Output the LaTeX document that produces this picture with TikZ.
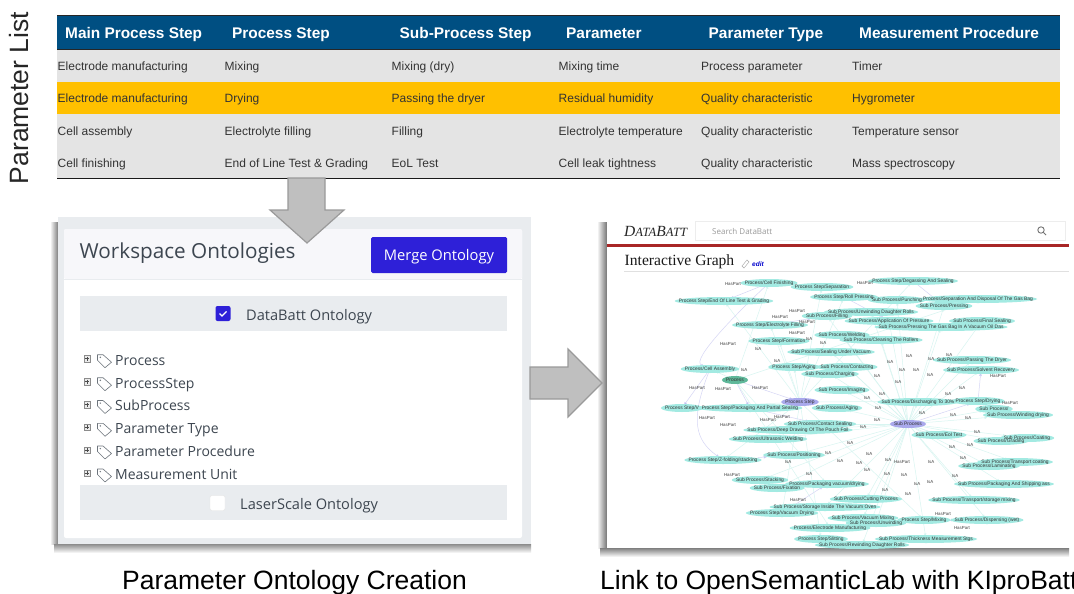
\documentclass[tikz,border=0pt]{standalone}
\usepackage{fontspec}
\setmainfont{Liberation Sans}
\newfontfamily\uifont{Open Sans}
\newfontfamily\serifui{Liberation Serif}
\usetikzlibrary{arrows.meta,calc}
\definecolor{hdr}{HTML}{004F82}
\definecolor{rowg}{HTML}{E4E4E4}
\definecolor{rowy}{HTML}{FFC000}
\definecolor{barg}{HTML}{E9ECEF}
\definecolor{cardh}{HTML}{F7F7FA}
\definecolor{txtg}{HTML}{3D4650}
\definecolor{btn}{HTML}{2E20D8}
\definecolor{arrowf}{HTML}{BFBFBF}
\definecolor{arrowd}{HTML}{9A9A9A}
\definecolor{gteal}{HTML}{A3EAE2}
\definecolor{glav}{HTML}{A9A9EC}
\definecolor{ggreen}{HTML}{5FB89A}
\definecolor{edgeb}{HTML}{D6D6F5}
\definecolor{edgec}{HTML}{D8F5F1}
\pgfdeclarelayer{gfill}
\pgfdeclarelayer{gtext}
\pgfsetlayers{main,gfill,gtext}
\tikzset{
 x=1pt,y=-1pt,
 hcell/.style={anchor=west,text=white,font=\fontsize{15.4}{17}\selectfont\bfseries,inner sep=0,text height=11pt,text depth=0pt},
 cell/.style={anchor=west,text=black!80,font=\fontsize{12}{14}\selectfont,inner sep=0,text height=8.6pt,text depth=0pt},
 caption/.style={text=black,font=\fontsize{26.5}{30}\selectfont,inner sep=0,anchor=west,text height=19pt,text depth=0pt},
 ui/.style={anchor=west,text=txtg,inner sep=0,font=\uifont\fontsize{14}{16}\selectfont,text height=10pt,text depth=0pt},
 uib/.style={ui,font=\uifont\fontsize{14.6}{17}\selectfont},
 bigarrow/.style={fill=arrowf,draw=arrowd,line width=1.2pt,line join=miter},
 gtxt/.style={text=black!80,font=\fontsize{4.9}{5.5}\selectfont,inner sep=0},
 lbl/.style={text=black!75,font=\fontsize{4.4}{5}\selectfont,inner sep=0},
 tedge/.style={draw=edgec,line width=0.5pt,-{Latex[length=3pt,width=2.6pt,fill=gteal!70]}},
 bedge/.style={draw=edgeb,line width=0.5pt,-{Latex[length=3.5pt,width=3pt,fill=glav]}},
}
\newcommand{\tagrow}[3]{%
 \node[draw=black!45,fill=black!8,line width=.4pt,minimum size=6.5pt,inner sep=0] (#1b) at (87,#2) {};
 \draw[black!70,line width=.8pt] (85,#2) -- (89,#2) (87,#2-2) -- (87,#2+2);
 \draw[txtg!75,line width=.6pt,line join=round] (97.5,#2-4) -- (103,#2-4) -- (111.5,#2+3.5) -- (105,#2+9) -- (97.5,#2+1.5) -- cycle;
 \fill[txtg!75] (100.3,#2-1.4) circle (.8);
 \node[ui] (#1) at (115,#2+1.3) {#3};
}
\newcommand{\gn}[5][gteal]{%
 \begin{pgfonlayer}{gtext}\node[gtxt] (#2) at (#3,#4) {#5};\end{pgfonlayer}%
 \begin{pgfonlayer}{gfill}\path let \p1=($(#2.east)-(#2.center)$) in [fill=#1] (#2.center) ellipse [x radius=\x1+4pt,y radius=4pt];\end{pgfonlayer}%
}
\begin{document}
\begin{tikzpicture}
\useasboundingbox (0,0) rectangle (1074,594);
\fill[white] (0,0) rectangle (1074,594);
% ---- side label
\node[rotate=90,font=\fontsize{26.5}{30}\selectfont,inner sep=0,text=black!85,text height=19pt,text depth=0pt] (side) at (19,98) {Parameter List};
% ---- table
\fill[hdr] (57,16) rectangle (1060,49);
\fill[rowg] (57,49) rectangle (1060,178);
\fill[rowy] (57,82) rectangle (1060,114);
\draw[black!85,line width=1pt] (57,16) -- (1060,16) (57,49.5) -- (1060,49.5);
\draw[black!90,line width=1.3pt] (57,178.5) -- (1060,178.5);
\foreach \n/\x/\t in {a/65/Main Process Step,b/232/Process Step,c/399.5/Sub-Process Step,d/566/Parameter,e/708.5/Parameter  Type,f/859/Measurement Procedure}
  \node[hcell] (h\n) at (\x,33) {\t};
\foreach \y/\r/\A/\B/\C/\D/\E/\F in {
 66/a/Electrode manufacturing/Mixing/Mixing (dry)/Mixing time/Process parameter/Timer,
 98.5/b/Electrode manufacturing/Drying/Passing the dryer/Residual humidity/Quality characteristic/Hygrometer,
 131/c/Cell assembly/Electrolyte filling/Filling/Electrolyte temperature/Quality characteristic/Temperature sensor,
 163/d/Cell finishing/End of Line Test \& Grading/EoL Test/Cell leak tightness/Quality characteristic/Mass spectroscopy}{
  \node[cell] (r\r1) at (57.5,\y) {\A};
  \node[cell] (r\r2) at (224.5,\y) {\B};
  \node[cell] (r\r3) at (391.5,\y) {\C};
  \node[cell] (r\r4) at (558.5,\y) {\D};
  \node[cell] (r\r5) at (701,\y) {\E};
  \node[cell] (r\r6) at (852,\y) {\F};
}
% ---- left panel
\shade[left color=white,right color=black!50] (50,222) rectangle (58,544);
\shade[top color=black!45,bottom color=white] (54,544) rectangle (531,553);
\fill[barg] (58,217) rectangle (531,544);
\fill[white,rounded corners=2pt] (64,229) rectangle (522,538);
\fill[cardh,rounded corners=2pt] (64,229) rectangle (522,279);
\draw[barg,line width=.6pt] (64,279) -- (522,279);
\node[anchor=west,inner sep=0,text=txtg,font=\uifont\fontsize{20.7}{24}\selectfont,text height=15pt,text depth=0pt] (wso) at (79.5,251) {Workspace Ontologies};
\node[fill=btn,rounded corners=1.5pt,text=white,minimum width=136pt,minimum height=36pt,inner sep=0,font=\uifont\fontsize{14.7}{17}\selectfont,text height=10.5pt,text depth=0pt] (merge) at (439,255) {Merge Ontology};
\fill[barg] (79.5,296) rectangle (507,331);
\fill[barg] (79.5,485) rectangle (507,520);
\node[fill=btn,rounded corners=2pt,minimum size=15pt,inner sep=0] (cb1) at (223,313.5) {};
\draw[white,line width=1.1pt] (219.5,313.5) -- (222,316) -- (226.5,311.5);
\node[uib] (dbo) at (246,315) {DataBatt Ontology};
\node[fill=white,draw=black!10,rounded corners=2pt,minimum size=15pt,inner sep=0] (cb2) at (217.5,503) {};
\node[uib] (lso) at (240,504) {LaserScale Ontology};
\tagrow{t1}{358.7}{Process}
\tagrow{t2}{381.7}{ProcessStep}
\tagrow{t3}{404.5}{SubProcess}
\tagrow{t4}{427.3}{Parameter Type}
\tagrow{t5}{450}{Parameter Procedure}
\tagrow{t6}{473}{Measurement Unit}
% ---- right panel
\shade[left color=white,right color=black!55] (597,222) rectangle (607,548);
\shade[top color=black!50,bottom color=white] (600,548) rectangle (1069,557);
\fill[white] (607,217) rectangle (1069,548);
\node[anchor=west,inner sep=0,font=\serifui\itshape\fontsize{15.5}{17}\selectfont,text=black!85] (dbt) at (624,231) {D\fontsize{12.6}{17}\selectfont ATA\fontsize{15.5}{17}\selectfont B\fontsize{12.6}{17}\selectfont ATT};
\draw[black!7,line width=.6pt] (695,221) rectangle (1065,240);
\node[anchor=west,inner sep=0,font=\uifont\fontsize{8}{10}\selectfont,text=black!40] (sdb) at (712,231.5) {Search DataBatt};
\draw[black!55,line width=.9pt] (1041,230) circle (3.2);
\draw[black!55,line width=1pt] (1043.4,232.4) -- (1046,235);
\fill[red!60!black!85] (607,244) rectangle (1069,247);
\node[anchor=west,inner sep=0,font=\serifui\fontsize{15.6}{17}\selectfont,text=black!90] (ig) at (624.5,262) {Interactive Graph};
\draw[black!35,line width=.4pt] (742,266) -- (747,260) -- (749,262) -- (744,268) -- cycle;
\node[anchor=west,inner sep=0,font=\itshape\bfseries\fontsize{6.5}{8}\selectfont,text=blue!80!black] (edt) at (752,264.5) {edit};
\draw[black!12,line width=.7pt] (624,271) -- (1069,271);
% graph nodes
\gn{n1}{769}{283}{Process/Cell Finishing}
\gn{n2}{822}{287}{Process Step/Separation}
\gn{n3}{913}{281}{Process Step/Degassing And Sealing}
\gn{n4}{724}{301}{Process Step/End Of Line Test \& Grading}
\gn{n5}{844}{297}{Process Step/Roll Pressing}
\gn{n6}{897}{300}{Sub Process/Punching}
\gn{n7}{978}{299}{Process/Separation And Disposal Of The Gas Bag}
\gn{n9}{944}{306}{Sub Process/Pressing}
\gn{n8}{871}{312}{Sub Process/Unwinding Daughter Rolls}
\gn{n10}{827}{316}{Sub Process/Filling}
\gn{n12}{982}{321}{Sub Process/Final Sealing}
\gn{n11}{889}{321}{Sub Process/Application Of Pressure}
\gn{n13}{941}{327}{Sub Process/Pressing The Gas Bag In A Vacuum Oil Das}
\gn{n14}{770}{325}{Process Step/Electrolyte Filling}
\gn{n15}{842}{335}{Sub Process/Welding}
\gn{n16}{881}{340}{Sub Process/Cleaning The Rollers}
\gn{n17}{779}{341}{Process Step/Formation}
\gn{n18}{831}{352}{Sub Process/Sealing Under Vacuum}
\gn{n19}{794}{367}{Process Step/Aging}
\gn{n20}{847}{367}{Sub Process/Contacting}
\gn{n21}{830}{374}{Sub Process/Charging}
\gn{n22}{972}{360}{Sub Process/Passing The Dryer}
\gn{n23}{981}{370}{Sub Process/Solvent Recovery}
\gn{n24}{710}{369}{Process/Cell Assembly}
\gn[ggreen]{pr}{735}{380}{Process}
\gn{n25}{842}{390}{Sub Process/Imaging}
\gn[glav]{ps}{800}{402}{Process Step}
\gn{n60}{682}{408}{Process Step/V}
\gn{n26}{750}{408}{Process Step/Packaging And Partial Sealing}
\gn{n27}{837}{408}{Sub Process/Aging}
\gn{n28}{918}{402}{Sub Process/Discharging To 30\%}
\gn{n29}{978}{401}{Process Step/Drying}
\gn{n30}{994}{409}{Sub Process/}
\gn{n31}{1018}{415}{Sub Process/Winding drying}
\gn[glav]{sp}{908}{424}{Sub Process}
\gn{n32}{820}{424}{Sub Process/Contact Sealing}
\gn{n33}{798}{430}{Sub Process/Deep Drawing Of The Pouch Foil}
\gn{n34}{768}{439}{Sub Process/Ultrasonic Welding}
\gn{n35}{939}{435}{Sub Process/Eol Test}
\gn{n36}{1027}{438}{Sub Process/Coating}
\gn{n37}{1001}{441}{Sub Process/Grading}
\gn{n38}{723}{460}{Process Step/Z-folding/stacking}
\gn{n39}{794}{455}{Sub Process/Positioning}
\gn{n41}{989}{466}{Sub Process/Laminating}
\gn{n40}{1015}{462}{Sub Process/Transport coating}
\gn{n42}{760}{480}{Sub Process/Stacking}
\gn{n43}{777}{488}{Sub Process/Fixation}
\gn{n44}{827}{484}{Process/Packaging vacuum/drying}
\gn{n45}{1004}{484}{Sub Process/Packaging And Shipping ass}
\gn{n46}{866}{499}{Sub Process/Cutting Process}
\gn{n47}{974}{500}{Sub Process/Transport/storage mixing}
\gn{n48}{825}{507}{Sub Process/Storage Inside The Vacuum Oven}
\gn{n49}{782}{513}{Process Step/Vacuum Drying}
\gn{n50}{863}{518}{Sub Process/Vacuum Mixing}
\gn{n51}{876}{523}{Sub Process/Unwinding}
\gn{n52}{924}{520}{Process Step/Mixing}
\gn{n53}{987}{520}{Sub Process/Dispersing (wet)}
\gn{n54}{830}{528}{Process/Electrode Manufacturing}
\gn{n55}{821}{539}{Process Step/Slitting}
\gn{n56}{926}{539}{Sub Process/Thickness Measurement Stgs}
\gn{n57}{862}{545}{Sub Process/Rewinding Daughter Rolls}
% edges
\foreach \n in {n6,n8,n9,n10,n11,n12,n13,n15,n16,n18,n20,n21,n22,n23,n25,n27,n28,n30,n31,n32,n33,n34,n35,n36,n37,n39,n40,n41,n42,n43,n45,n46,n47,n48,n50,n51,n53,n56,n57}
  \draw[tedge] (sp) -- (\n);
\foreach \n in {n2,n3,n4,n5,n14,n17,n19,n26,n29,n38,n49,n52,n55,n60}
  \draw[tedge] (ps) -- (\n);
\foreach \n in {n1,n24,n54,n7,n44}
  \draw[tedge] (pr) -- (\n);
\draw[bedge] (n1) .. controls (740,310) and (690,360) .. (n24);
\draw[bedge] (n24) .. controls (690,420) and (695,440) .. (n38);
\draw[bedge] (n24) -- (n60);
\draw[bedge] (pr) -- (ps);
\draw[bedge] (pr) -- (n26);
\draw[bedge] (n14) -- (n10);
\draw[bedge] (n1) -- (n4);
\draw[bedge] (n19) -- (n20);
\draw[bedge] (n26) -- (n32);
\draw[bedge] (n38) -- (n39);
\draw[bedge] (n49) -- (n44);
\draw[bedge] (n29) -- (n23);
\draw[bedge] (n52) -- (n53);
\draw[bedge] (n5) -- (n11);
\draw[bedge] (n3) -- (n9);
\draw[bedge] (n54) -- (n51);
\draw[bedge] (sp) -- (n29);
% edge labels
\begin{pgfonlayer}{gtext}
\foreach \i/\x/\y in {1/733/284,2/865/283,3/780/317,4/797/311,5/807/322,6/797/333,7/728/344,8/998/376,9/697/388,10/723/389,11/760/388,12/707/418,13/728/425,14/768/420,15/782/417,16/1010/403,17/902/462,18/732/475,19/798/500,20/962/528,21/943/514}
  \node[lbl] (hp\i) at (\x,\y) {HasPart};
\foreach \i/\x/\y in {1/758/349,2/809/339,3/823/343,4/777/361,5/890/362,6/909/356,7/931/359,8/949/355,9/902/370,10/916/370,11/930/375,12/877/376,13/898/382,14/744/370,15/882/394,16/867/398,17/878/408,18/877/420,19/863/427,20/922/413,21/948/394,22/962/388,23/953/415,24/968/418,25/977/432,26/850/443,27/952/447,28/970/445,29/828/453,30/788/462,31/869/454,32/840/461,33/859/463,34/888/460,35/867/470,36/809/474,37/887/474,38/904/475,39/931/462,40/963/458,41/917/484,42/930/482,43/955/476,44/885/490,45/908/494}
  \node[lbl] (ia\i) at (\x,\y) {IsA};
\end{pgfonlayer}
% big arrows
\draw[bigarrow] (288,178) -- (325,178) -- (325,210) -- (344,210) -- (307,243) -- (270,210) -- (288,210) -- cycle;
\draw[bigarrow] (530,367) -- (568,367) -- (568,349) -- (602,383) -- (568,417) -- (568,399) -- (530,399) -- cycle;
% captions
\node[caption] (c1) at (122,580) {Parameter Ontology Creation};
\node[caption] (c2) at (600,580) {Link to OpenSemanticLab with KIproBatt};
\end{tikzpicture}
\end{document}
